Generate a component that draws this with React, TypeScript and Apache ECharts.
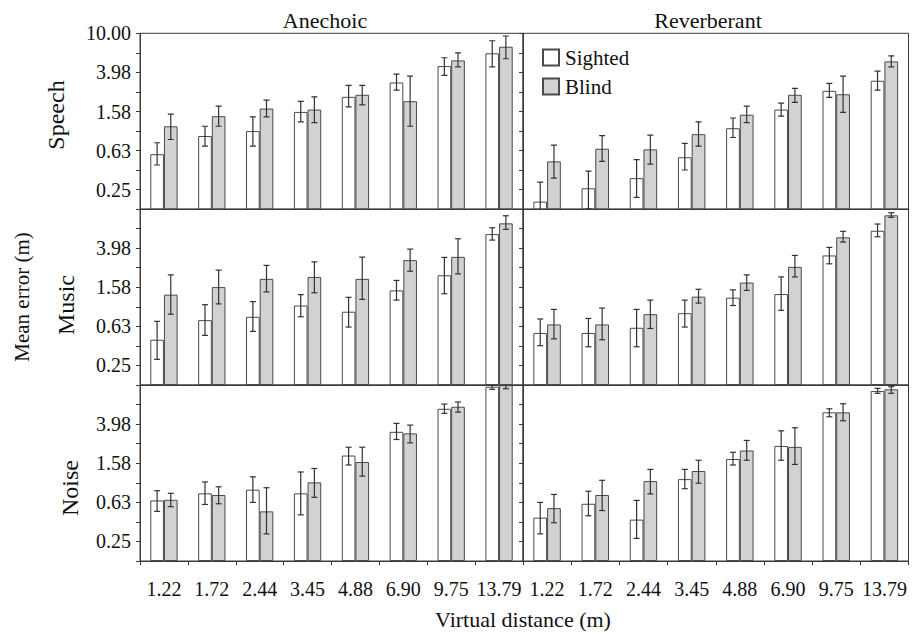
import React, { useEffect, useRef } from "react";
import * as echarts from "echarts";

// ---- Data (mean error in metres) ----
const categories = ["1.22", "1.72", "2.44", "3.45", "4.88", "6.90", "9.75", "13.79"];
const rowNames = ["Speech", "Music", "Noise"];
const colNames = ["Anechoic", "Reverberant"];
const groupNames = ["Sighted", "Blind"];

// log10 exponents of the labelled y ticks
const labelledExponents = [-0.6, -0.2, 0.2, 0.6, 1.0];
const AXIS_MIN_EXP = -0.8;
const AXIS_MAX_EXP = 1.0;

const speechAnechoicSighted = [0.58, 0.89, 1.0, 1.57, 2.24, 3.14, 4.62, 6.24];
const speechAnechoicSightedErr = [[0.45, 0.76], [0.7, 1.12], [0.7, 1.4], [1.24, 2.01], [1.77, 2.93], [2.62, 3.83], [3.71, 5.62], [4.54, 8.39]];
const speechAnechoicBlind = [1.12, 1.42, 1.7, 1.66, 2.35, 2.02, 5.28, 7.29];
const speechAnechoicBlindErr = [[0.82, 1.49], [1.12, 1.8], [1.4, 2.07], [1.22, 2.24], [1.85, 2.93], [1.12, 3.65], [4.54, 6.32], [5.49, 9.38]];

const speechReverbSighted = [0.19, 0.26, 0.33, 0.54, 1.07, 1.66, 2.58, 3.27];
const speechReverbSightedErr = [[0.1, 0.3], [0.16, 0.39], [0.21, 0.51], [0.4, 0.75], [0.86, 1.36], [1.42, 1.93], [2.21, 3.07], [2.62, 4.1]];
const speechReverbBlind = [0.49, 0.66, 0.65, 0.93, 1.47, 2.35, 2.38, 5.16];
const speechReverbBlindErr = [[0.33, 0.72], [0.49, 0.9], [0.46, 0.91], [0.7, 1.24], [1.22, 1.8], [1.97, 2.73], [1.55, 3.65], [4.54, 5.89]];

const musicAnechoicSighted = [0.46, 0.73, 0.79, 1.03, 0.89, 1.47, 2.1, 5.54];
const musicAnechoicSightedErr = [[0.29, 0.71], [0.51, 1.05], [0.56, 1.13], [0.79, 1.33], [0.62, 1.25], [1.17, 1.86], [1.36, 3.2], [4.81, 6.43]];
const musicAnechoicBlind = [1.33, 1.59, 1.93, 2.02, 1.93, 3.0, 3.24, 7.13];
const musicAnechoicBlindErr = [[0.84, 2.12], [1.07, 2.37], [1.42, 2.65], [1.39, 2.88], [1.19, 3.22], [2.31, 3.89], [2.17, 4.96], [6.19, 8.53]];

const musicReverbSighted = [0.54, 0.54, 0.61, 0.86, 1.24, 1.35, 3.35, 5.99];
const musicReverbSightedErr = [[0.4, 0.75], [0.39, 0.76], [0.39, 0.94], [0.62, 1.17], [1.03, 1.49], [0.92, 2.02], [2.75, 4.05], [5.2, 7.02]];
const musicReverbBlind = [0.66, 0.66, 0.84, 1.27, 1.77, 2.56, 5.13, 8.61];
const musicReverbBlindErr = [[0.47, 0.94], [0.46, 0.97], [0.6, 1.17], [1.09, 1.51], [1.47, 2.12], [2.02, 3.35], [4.59, 5.91], [8.22, 9.16]];

const noiseAnechoicSighted = [0.66, 0.78, 0.85, 0.78, 1.9, 3.32, 5.71, 9.61];
const noiseAnechoicSightedErr = [[0.51, 0.83], [0.6, 1.02], [0.63, 1.15], [0.47, 1.29], [1.52, 2.31], [2.77, 4.05], [5.13, 6.38], [9.03, 10.3]];
const noiseAnechoicBlind = [0.67, 0.75, 0.51, 1.01, 1.63, 3.2, 5.99, 9.95];
const noiseAnechoicBlindErr = [[0.57, 0.78], [0.61, 0.91], [0.3, 0.89], [0.71, 1.4], [1.17, 2.31], [2.56, 3.89], [5.28, 6.7], [9.16, 10.4]];

const noiseReverbSighted = [0.44, 0.61, 0.42, 1.09, 1.75, 2.38, 5.25, 8.67];
const noiseReverbSightedErr = [[0.3, 0.63], [0.46, 0.82], [0.27, 0.66], [0.87, 1.37], [1.52, 2.05], [1.7, 3.4], [4.73, 5.71], [8.22, 9.25]];
const noiseReverbBlind = [0.55, 0.75, 1.04, 1.32, 2.14, 2.33, 5.25, 9.03];
const noiseReverbBlindErr = [[0.39, 0.76], [0.52, 1.06], [0.77, 1.37], [0.99, 1.7], [1.7, 2.71], [1.54, 3.65], [4.31, 6.43], [8.22, 9.61]];

const panels = [
  { row: 0, col: 0, s: speechAnechoicSighted, sErr: speechAnechoicSightedErr, b: speechAnechoicBlind, bErr: speechAnechoicBlindErr },
  { row: 0, col: 1, s: speechReverbSighted, sErr: speechReverbSightedErr, b: speechReverbBlind, bErr: speechReverbBlindErr },
  { row: 1, col: 0, s: musicAnechoicSighted, sErr: musicAnechoicSightedErr, b: musicAnechoicBlind, bErr: musicAnechoicBlindErr },
  { row: 1, col: 1, s: musicReverbSighted, sErr: musicReverbSightedErr, b: musicReverbBlind, bErr: musicReverbBlindErr },
  { row: 2, col: 0, s: noiseAnechoicSighted, sErr: noiseAnechoicSightedErr, b: noiseAnechoicBlind, bErr: noiseAnechoicBlindErr },
  { row: 2, col: 1, s: noiseReverbSighted, sErr: noiseReverbSightedErr, b: noiseReverbBlind, bErr: noiseReverbBlindErr },
];

// ---- Layout / style ----
const FONT = '"Liberation Serif", "Times New Roman", Times, serif';
const TEXT = "#111";
const LINE = "#3a3a3a";
const BAR_BORDER = "#4a4a4a";
const BLIND_FILL = "#d2d2d2";
const GRID_LEFT = [140, 523];
const GRID_WIDTH = [383, 385.5];
const GRID_TOP = [33.3, 209, 385];
const GRID_HEIGHT = 176;
const CAT_GAP = 0.43;

const toAxis = (v: number) => Math.log10(v) - AXIS_MIN_EXP;

function makeErrorRenderer(sign: number) {
  return (params: any, api: any) => {
    const c = api.value(0);
    const lo = api.coord([c, api.value(1)]);
    const hi = api.coord([c, api.value(2)]);
    const band = api.size([1, 0])[0];
    const bw = (band * (1 - CAT_GAP)) / 2;
    const x = lo[0] + (sign * bw) / 2;
    const cap = 3;
    const style = { stroke: "#333", lineWidth: 1.2 };
    return {
      type: "group",
      children: [
        { type: "line", shape: { x1: x, y1: lo[1], x2: x, y2: hi[1] }, style },
        { type: "line", shape: { x1: x - cap, y1: lo[1], x2: x + cap, y2: lo[1] }, style },
        { type: "line", shape: { x1: x - cap, y1: hi[1], x2: x + cap, y2: hi[1] }, style },
      ],
    };
  };
}

export default function App() {
  const ref = useRef<HTMLDivElement>(null);

  useEffect(() => {
    if (!ref.current) return;
    const chart = echarts.init(ref.current, null, { renderer: "svg" });

    const grid: any[] = [];
    const xAxis: any[] = [];
    const yAxis: any[] = [];
    const series: any[] = [];

    panels.forEach((p, i) => {
      grid.push({
        left: GRID_LEFT[p.col],
        top: GRID_TOP[p.row],
        width: GRID_WIDTH[p.col],
        height: GRID_HEIGHT,
        show: true,
        borderColor: LINE,
        borderWidth: 1,
      });
      const bottomRow = p.row === 2;
      xAxis.push({
        gridIndex: i,
        type: "category",
        data: categories,
        axisLine: { show: true, lineStyle: { color: LINE, width: 1 } },
        axisTick: { show: bottomRow, length: 4, lineStyle: { color: LINE } },
        axisLabel: {
          show: bottomRow,
          fontSize: 20,
          fontFamily: FONT,
          color: TEXT,
          margin: 18,
          interval: 0,
        },
        splitLine: { show: false },
      });
      const row = p.row;
      yAxis.push({
        gridIndex: i,
        type: "value",
        min: 0,
        max: AXIS_MAX_EXP - AXIS_MIN_EXP,
        interval: 0.2,
        axisLine: { show: true, lineStyle: { color: LINE, width: 1 } },
        axisTick: { show: true, length: 4, lineStyle: { color: LINE } },
        splitLine: { show: false },
        axisLabel: {
          show: p.col === 0,
          fontSize: 20,
          fontFamily: FONT,
          color: TEXT,
          margin: 9,
          formatter: (v: number) => {
            const e = Math.round((v + AXIS_MIN_EXP) * 10) / 10;
            const hit = labelledExponents.some((x) => Math.abs(x - e) < 1e-6);
            if (!hit) return "";
            if (Math.abs(e - AXIS_MAX_EXP) < 1e-6 && row !== 0) return "";
            return Math.pow(10, e).toFixed(2);
          },
        },
      });

      series.push({
        type: "bar",
        name: groupNames[0],
        xAxisIndex: i,
        yAxisIndex: i,
        data: p.s.map(toAxis),
        barGap: "0%",
        barCategoryGap: `${CAT_GAP * 100}%`,
        itemStyle: { color: "#ffffff", borderColor: BAR_BORDER, borderWidth: 1 },
        clip: true,
        silent: true,
      });
      series.push({
        type: "bar",
        name: groupNames[1],
        xAxisIndex: i,
        yAxisIndex: i,
        data: p.b.map(toAxis),
        barGap: "0%",
        barCategoryGap: `${CAT_GAP * 100}%`,
        itemStyle: { color: BLIND_FILL, borderColor: BAR_BORDER, borderWidth: 1 },
        clip: true,
        silent: true,
      });
      series.push({
        type: "custom",
        xAxisIndex: i,
        yAxisIndex: i,
        renderItem: makeErrorRenderer(-1),
        data: p.sErr.map((e, k) => [k, toAxis(e[0]), toAxis(e[1])]),
        encode: { x: 0, y: [1, 2] },
        clip: true,
        z: 3,
        silent: true,
      });
      series.push({
        type: "custom",
        xAxisIndex: i,
        yAxisIndex: i,
        renderItem: makeErrorRenderer(1),
        data: p.bErr.map((e, k) => [k, toAxis(e[0]), toAxis(e[1])]),
        encode: { x: 0, y: [1, 2] },
        clip: true,
        z: 3,
        silent: true,
      });
    });

    const rowLabelX = [56, 66, 70];
    const rowLabelY = [115, 305, 488];
    const graphic: any[] = [];
    colNames.forEach((t, c) => {
      graphic.push({
        type: "text",
        x: [325, 708][c],
        y: 20,
        style: { text: t, align: "center", verticalAlign: "middle", fontSize: 22, fontFamily: FONT, fill: TEXT },
      });
    });
    rowNames.forEach((t, r) => {
      graphic.push({
        type: "text",
        x: rowLabelX[r],
        y: rowLabelY[r],
        rotation: Math.PI / 2,
        style: { text: t, align: "center", verticalAlign: "middle", fontSize: 24, fontFamily: FONT, fill: TEXT },
      });
    });
    graphic.push({
      type: "text",
      x: 22,
      y: 297,
      rotation: Math.PI / 2,
      style: { text: "Mean error (m)", align: "center", verticalAlign: "middle", fontSize: 21, fontFamily: FONT, fill: TEXT },
    });
    graphic.push({
      type: "text",
      x: 523,
      y: 619,
      style: { text: "Virtual distance (m)", align: "center", verticalAlign: "middle", fontSize: 22, fontFamily: FONT, fill: TEXT },
    });

    chart.setOption({
      animation: false,
      backgroundColor: "#ffffff",
      grid,
      xAxis,
      yAxis,
      series,
      legend: {
        data: groupNames,
        orient: "vertical",
        left: 542,
        top: 47,
        padding: 0,
        itemWidth: 16,
        itemHeight: 16,
        itemGap: 8,
        icon: "rect",
        selectedMode: false,
        textStyle: { fontSize: 21, fontFamily: FONT, color: TEXT, padding: [0, 0, 0, 1] },
      },
      graphic,
    });

    return () => chart.dispose();
  }, []);

  return (
    <div
      ref={ref}
      style={{ position: "fixed", left: 0, top: 0, width: 924, height: 634, background: "#fff" }}
    />
  );
}
